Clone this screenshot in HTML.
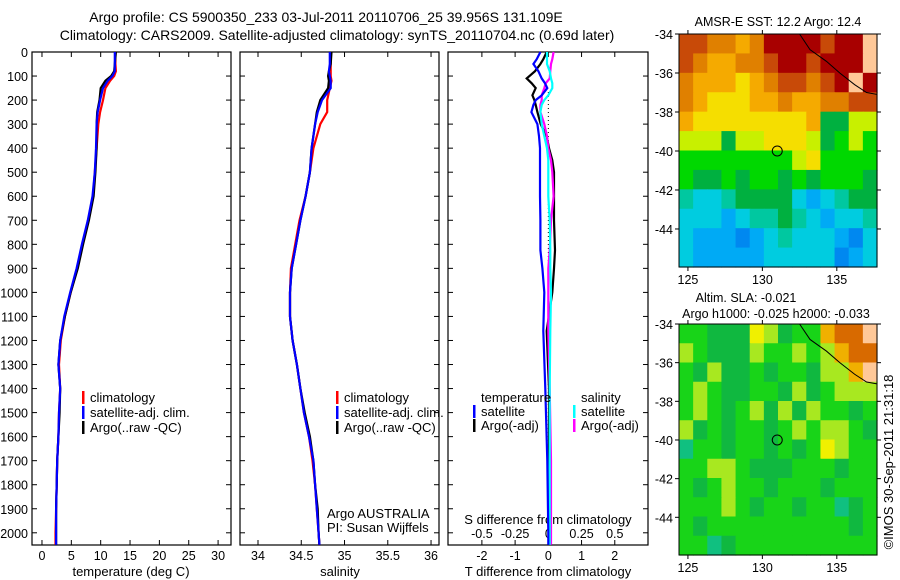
<!DOCTYPE html>
<html><head><meta charset="utf-8"><style>
html,body{margin:0;padding:0;background:#fff;}
svg{display:block;font-family:"Liberation Sans",sans-serif;}
</style></head><body>
<svg id="fig" width="900" height="580" xmlns="http://www.w3.org/2000/svg">
<rect width="900" height="580" fill="#fff"/>
<text x="326" y="22" font-size="14" text-anchor="middle">Argo profile: CS 5900350_233 03-Jul-2011 20110706_25 39.956S 131.109E</text>
<text x="337" y="40" font-size="14" text-anchor="middle">Climatology: CARS2009. Satellite-adjusted climatology: synTS_20110704.nc (0.69d later)</text>
<g id="plots"></g>
</svg>
<script>
// ---- data ----
const depthT = [0,50,80,100,120,150,200,250,300,400,500,600,700,800,900,1000,1100,1200,1300,1400,1500,1600,1700,1800,1900,2000,2050];
const tempClim = [12.5,12.5,12.6,12.3,11.6,10.8,10.4,9.9,9.6,9.3,9.0,8.7,7.9,6.9,6.0,4.9,3.9,3.2,2.9,3.1,2.9,2.8,2.6,2.5,2.4,2.3,2.3];
const tempSat  = [12.4,12.4,12.4,12.0,11.2,10.4,9.9,9.5,9.3,9.2,9.0,8.6,7.8,6.8,5.9,4.8,3.8,3.1,2.8,3.1,2.9,2.8,2.6,2.5,2.4,2.4,2.4];
const tempArgo = [12.6,12.4,12.3,11.8,10.8,10.0,9.8,9.4,9.3,9.3,9.1,8.8,8.0,7.0,6.1,4.9,3.9,3.1,2.8,3.1,3.0,2.8,2.6,2.5,2.4,2.4,2.4];
const salClim = [34.84,34.84,34.84,34.84,34.85,34.83,34.80,34.80,34.72,34.64,34.60,34.55,34.48,34.43,34.38,34.37,34.37,34.40,34.45,34.49,34.53,34.59,34.63,34.66,34.68,34.70,34.71];
const salSat  = [34.83,34.83,34.82,34.83,34.84,34.84,34.74,34.69,34.66,34.62,34.60,34.55,34.49,34.44,34.39,34.37,34.37,34.40,34.45,34.49,34.53,34.59,34.64,34.66,34.68,34.70,34.71];
const salArgo = [34.85,34.84,34.82,34.81,34.82,34.81,34.72,34.68,34.66,34.62,34.60,34.55,34.49,34.44,34.39,34.37,34.37,34.40,34.45,34.49,34.54,34.60,34.64,34.66,34.69,34.70,34.71];
const depthD = [0,30,50,80,110,130,150,180,200,220,250,300,350,400,450,500,600,700,825,900,1000,1160,1400,1700,2000,2050];
const tdiffSat  = [-0.24,-0.35,-0.45,-0.3,-0.2,-0.1,-0.03,-0.2,-0.38,-0.45,-0.51,-0.33,-0.28,-0.25,-0.25,-0.25,-0.25,-0.24,-0.24,-0.18,-0.12,-0.15,-0.09,-0.03,0,0];
const tdiffArgo = [-0.05,-0.15,-0.24,-0.4,-0.65,-0.5,-0.38,-0.48,-0.42,-0.38,-0.33,-0.23,-0.05,0.02,0.12,0.17,0.17,0.17,0.2,0.17,0.12,-0.05,0.02,0.02,0.02,0.02];
const sdiffSat  = [-0.01,-0.01,-0.01,0.01,0.02,0.03,0.03,0.0,-0.03,-0.05,-0.06,-0.05,-0.03,-0.01,0,0,0,0.01,0.015,0.015,0.02,0.015,0.01,0.01,0.01,0.01];
const sdiffArgo = [0.04,0.03,0.02,0.015,0.01,-0.02,-0.03,-0.05,-0.05,-0.06,-0.06,-0.03,-0.01,0,0.02,0.03,0.04,0.02,0.01,0.0,0.0,0.0,0.01,0.02,0.02,0.02];
const depthTicks = [0,100,200,300,400,500,600,700,800,900,1000,1100,1200,1300,1400,1500,1600,1700,1800,1900,2000];
const tempTicks = [0,5,10,15,20,25,30];
const salTicks = [34,34.5,35,35.5,36];
const tdTicks = [-2,-1,0,1,2];
const sdTicks = [-0.5,-0.25,0,0.25,0.5];
const latTicks = [-34,-36,-38,-40,-42,-44];
const lonTicks = [125,130,135];
const sstGrid = [
"rrOOoORRRRrRRL",
"rOooOOrRRrRRRL",
"OoooYoOrrOrRLR",
"OoYYYooOooOOrr",
"oYYYYYYYYoggyy",
"yyygyyYYYygGyG",
"GGGGGGGGyYGGGG",
"GggGgGGgGgGGGg",
"tcctggggcbctgg",
"cccbcttgtcbcct",
"cbbbBbctcccbBc",
"cbbbbbcccccBbc"];
const slaGrid = [
"GGgggYygGGoOOL",
"yGgggyGGyGyoOO",
"GgyggGgGGgyyoL",
"GyGggGGgygGyyy",
"GyGgGygygyGGgG",
"ygGgGGgGyGyyGg",
"tGGgGGgGgGYyGG",
"GGyyGgggGGGgGG",
"GgGyGGgGGGgGGG",
"GGGyGgGGgGGtgG",
"GgGGGGGGGGGGgG",
"GGtgGGGGGGGGGG"];
const sstColors = {R:"#a80000",r:"#c84a08",O:"#e08000",o:"#f5aa00",Y:"#f5de00",y:"#c8f000",G:"#00d800",g:"#00b040",t:"#00c8a0",c:"#00cce0",b:"#00aaf5",B:"#0088f0",L:"#ffc898"};
const slaColors = {G:"#18d418",g:"#10b840",y:"#a8e820",Y:"#f0f000",o:"#f0b000",O:"#d86a00",t:"#10c080",L:"#ffc898"};

const NS="http://www.w3.org/2000/svg";
const root=document.getElementById('plots');
const FS=13, TS=12.5;
function el(tag,attrs,parent){const e=document.createElementNS(NS,tag);for(const k in attrs)e.setAttribute(k,attrs[k]);(parent||root).appendChild(e);return e;}
function txt(x,y,s,size,anchor,parent){const t=el('text',{x:x,y:y,'font-size':size,'text-anchor':anchor||'middle'},parent);t.textContent=s;return t;}

const pTop=52,pBot=545;
const yD=d=>pTop+d*0.2404;
function panel(name,x0,x1,xmin,xmax){
  const g=el('g',{});
  
  
  const xs=v=>x0+(v-xmin)/(xmax-xmin)*(x1-x0);
  return {g,xs};
}
function frame(g,x0,x1){
  const r=el('rect',{x:x0,y:pTop,width:x1-x0,height:pBot-pTop,fill:'none',stroke:'#000','stroke-width':1.2},g);
  
  
  depthTicks.forEach(d=>{
    el('line',{x1:x0,x2:x0+5,y1:yD(d),y2:yD(d),stroke:'#000'},g);
    el('line',{x1:x1-5,x2:x1,y1:yD(d),y2:yD(d),stroke:'#000'},g);
  });
}
function xticks(g,xs,ticks,labels,ly){
  ticks.forEach((v,i)=>{
    const x=xs(v);
    el('line',{x1:x,x2:x,y1:pBot,y2:pBot-5,stroke:'#000'},g);
    el('line',{x1:x,x2:x,y1:pTop,y2:pTop+5,stroke:'#000'},g);
    const t=txt(x,ly,labels[i],TS,'middle',g);
    
    
  });
}
function line(g,xs,vals,depths,color,name,w){
  const pts=vals.map((v,i)=>xs(v).toFixed(1)+','+yD(depths[i]).toFixed(1)).join(' ');
  const p=el('polyline',{points:pts,fill:'none',stroke:color,'stroke-width':w||2.2},g);
  
  
}
function legendEntry(g,x,y,color,label){
  const r=el('rect',{x:x,y:y-11,width:2.5,height:13,fill:color},g);
  
  
  const t=txt(x+8,y,label,FS,'start',g);
  
  
}

{const P=panel('temperature-panel',32,231,-1.7,32.2);
frame(P.g,32,231);
depthTicks.forEach(d=>{const t=txt(28,yD(d)+5,String(d),TS,'end',P.g);});
xticks(P.g,P.xs,tempTicks,tempTicks.map(String),560);
const xt=txt(131,576,'temperature (deg C)',FS,'middle',P.g);
line(P.g,P.xs,tempClim,depthT,'#ff0000','climatology-line');
line(P.g,P.xs,tempArgo,depthT,'#000','argo-line');
line(P.g,P.xs,tempSat,depthT,'#0000ff','satellite-line');
legendEntry(P.g,82,402,'#ff0000','climatology');
legendEntry(P.g,82,417,'#0000ff','satellite-adj. clim.');
legendEntry(P.g,82,432,'#000','Argo(..raw -QC)');}

{const P=panel('salinity-panel',240,439,33.792,36.092);
frame(P.g,240,439);
xticks(P.g,P.xs,salTicks,salTicks.map(String),560);
const xt=txt(340,576,'salinity',FS,'middle',P.g);
line(P.g,P.xs,salClim,depthT,'#ff0000','climatology-line');
line(P.g,P.xs,salArgo,depthT,'#000','argo-line');
line(P.g,P.xs,salSat,depthT,'#0000ff','satellite-line');
legendEntry(P.g,336,402,'#ff0000','climatology');
legendEntry(P.g,336,417,'#0000ff','satellite-adj. clim.');
legendEntry(P.g,336,432,'#000','Argo(..raw -QC)');
const a=txt(327,518,'Argo AUSTRALIA',FS,'start',P.g);
const b=txt(327,532,'PI: Susan Wijffels',FS,'start',P.g);}

{const P=panel('difference-panel',448,648,-3.02,3.0);
const xsS=v=>P.xs(v*4);
frame(P.g,448,648);
xticks(P.g,P.xs,tdTicks,tdTicks.map(String),560);
sdTicks.forEach(v=>{const t=txt(xsS(v),538,String(v),TS,'middle',P.g);});
const st=txt(548,524,'S difference from climatology',FS,'middle',P.g);
const xt=txt(548,576,'T difference from climatology',FS,'middle',P.g);
const z=el('line',{x1:P.xs(0),x2:P.xs(0),y1:pTop+40,y2:pBot,stroke:'#000','stroke-dasharray':'1,3'},P.g);

line(P.g,P.xs,tdiffArgo,depthD,'#000','t-argo-line');
line(P.g,xsS,sdiffArgo,depthD,'#ff00ff','s-argo-line');
line(P.g,xsS,sdiffSat,depthD,'#00ffff','s-satellite-line');
line(P.g,P.xs,tdiffSat,depthD,'#0000ff','t-satellite-line');
const lt=txt(481,402,'temperature',FS,'start',P.g);
const ls=txt(581,402,'salinity',FS,'start',P.g);
legendEntry(P.g,473,416,'#0000ff','satellite');
legendEntry(P.g,473,430,'#000','Argo(-adj)');
legendEntry(P.g,573,416,'#00ffff','satellite');
legendEntry(P.g,573,430,'#ff00ff','Argo(-adj)');}

function map(name,y0,y1,grid,colors,titles){
  const g=el('g',{});
  
  
  const x0=679,x1=877;
  const lon=v=>x0+(v-124.4)/(137.7-124.4)*(x1-x0);
  const lat=v=>y0+(-34-v)/(11.95)*(y1-y0);
  const rows=grid.length,cols=grid[0].length;
  const cw=(x1-x0)/cols,ch=(y1-y0)/rows;
  grid.forEach((row,r)=>{for(let c=0;c<cols;c++){
    const cell=el('rect',{x:(x0+c*cw).toFixed(2),y:(y0+r*ch).toFixed(2),width:(cw+0.6).toFixed(2),height:(ch+0.6).toFixed(2),fill:colors[row[c]]},g);
    
    
  }});
  const coast=el('polyline',{points:`${lon(132.5)},${y0} ${lon(133.2)},${lat(-34.8)} ${lon(134.3)},${lat(-35.4)} ${lon(135.2)},${lat(-36.0)} ${lon(136.2)},${lat(-36.6)} ${lon(137.0)},${lat(-37.0)} ${x1},${lat(-37.1)}`,fill:'none',stroke:'#000','stroke-width':1},g);
  
  const circ=el('circle',{cx:lon(131),cy:lat(-40),r:5,fill:'none',stroke:'#000','stroke-width':1},g);
  
  const fr=el('rect',{x:x0,y:y0,width:x1-x0,height:y1-y0,fill:'none',stroke:'#000','stroke-width':1},g);
  
  latTicks.forEach(v=>{
    el('line',{x1:x0-4,x2:x0,y1:lat(v),y2:lat(v),stroke:'#000'},g);
    el('line',{x1:x1,x2:x1+4,y1:lat(v),y2:lat(v),stroke:'#000'},g);
    const t=txt(x0-6,lat(v)+5,String(v),TS,'end',g);
  });
  lonTicks.forEach(v=>{
    el('line',{x1:lon(v),x2:lon(v),y1:y1,y2:y1+4,stroke:'#000'},g);
    el('line',{x1:lon(v),x2:lon(v),y1:y0-4,y2:y0,stroke:'#000'},g);
    const t=txt(lon(v),y1+17,String(v),TS,'middle',g);
  });
  titles.forEach(tt=>{const t=txt(tt[0],tt[1],tt[2],12.5,'middle',g);});
}
map('sst-map',34,267,sstGrid,sstColors,[[778,26,'AMSR-E SST: 12.2 Argo: 12.4','sst-map-title']]);
map('sla-map',324,555,slaGrid,slaColors,[[746,302,'Altim. SLA: -0.021','sla-map-title'],[776,318,'Argo h1000: -0.025 h2000: -0.033','sla-map-subtitle']]);
const cr=txt(0,0,'\u00a9IMOS 30-Sep-2011 21:31:18',FS,'middle');
cr.setAttribute('transform','translate(893,462) rotate(-90)');


</script>
</body></html>
